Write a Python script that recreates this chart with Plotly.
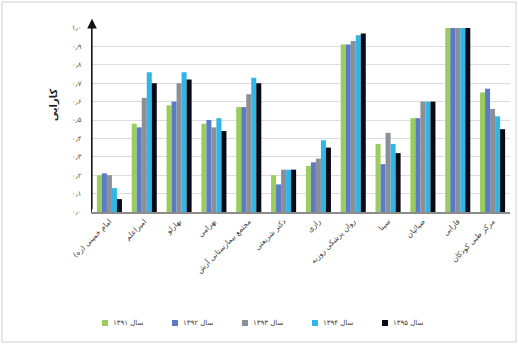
import plotly.graph_objects as go

# Hospitals (x categories)
hospitals = [
    "امام خمینی (ره)", "امیراعلم", "بهارلو", "بهرامی", "مجتمع بیمارستانی آرش",
    "دکتر شریعتی", "رازی", "روان پزشکی روزبه", "سینا", "ضیائیان", "فارابی",
    "مرکز طبی کودکان",
]

years = ["سال ۱۳۹۱", "سال ۱۳۹۲", "سال ۱۳۹۳", "سال ۱۳۹۴", "سال ۱۳۹۵"]

eff_1391 = [0.20, 0.48, 0.58, 0.48, 0.57, 0.20, 0.25, 0.91, 0.37, 0.51, 1.00, 0.65]
eff_1392 = [0.21, 0.46, 0.60, 0.50, 0.57, 0.15, 0.27, 0.91, 0.26, 0.51, 1.00, 0.67]
eff_1393 = [0.20, 0.62, 0.70, 0.46, 0.64, 0.23, 0.29, 0.93, 0.43, 0.60, 1.00, 0.56]
eff_1394 = [0.13, 0.76, 0.76, 0.51, 0.73, 0.23, 0.39, 0.96, 0.37, 0.60, 1.00, 0.52]
eff_1395 = [0.07, 0.70, 0.72, 0.44, 0.70, 0.23, 0.35, 0.97, 0.32, 0.60, 1.00, 0.45]

series = [eff_1391, eff_1392, eff_1393, eff_1394, eff_1395]
colors = ["#9ACD5E", "#5B7CC4", "#8A8F99", "#2FB6E6", "#0A0A14"]

tick_vals = [0.0, 0.1, 0.2, 0.3, 0.4, 0.5, 0.6, 0.7, 0.8, 0.9, 1.0]
tick_text = ["۰٫۰", "۰٫۱", "۰٫۲", "۰٫۳", "۰٫۴", "۰٫۵", "۰٫۶", "۰٫۷", "۰٫۸", "۰٫۹", "۱٫۰"]

W, H = 518, 344
L, R, T, B = 92, 8, 28, 132
pw, ph = W - L - R, H - T - B


def px_x(x):
    return (x - L) / pw


def px_y(y):
    return (H - B - y) / ph


fig = go.Figure()
for name, vals, c in zip(years, series, colors):
    fig.add_trace(go.Bar(x=hospitals, y=vals, name=name, marker=dict(color=c, line=dict(width=0))))

fig.update_layout(
    width=W, height=H,
    margin=dict(l=L, r=R, t=T, b=B),
    paper_bgcolor="white", plot_bgcolor="white",
    barmode="group", bargap=0.28, bargroupgap=0,
    font=dict(family="DejaVu Sans", size=8, color="#404040"),
    showlegend=False,
    xaxis=dict(tickangle=-45, showline=True, linecolor="#8c8c8c", linewidth=2,
               ticks="", tickfont=dict(size=7.5, color="#404040"), showgrid=False),
    yaxis=dict(range=[0, 1.0], tickvals=tick_vals, ticktext=tick_text,
               showgrid=True, gridcolor="#dcdcdc", gridwidth=1,
               showline=True, linecolor="#222222", linewidth=1,
               ticks="", ticklabelstandoff=8,
               tickfont=dict(size=7, color="#595959"), zeroline=False),
)

# Legend row: colour swatch followed by the year label
for i, (name, c) in enumerate(zip(years, colors)):
    x0 = 102 + 70 * i
    fig.add_shape(type="rect", xref="paper", yref="paper",
                  x0=px_x(x0), x1=px_x(x0 + 6), y0=px_y(326), y1=px_y(320),
                  fillcolor=c, line=dict(width=0))
    fig.add_annotation(x=px_x(x0 + 9), y=px_y(323), xref="paper", yref="paper",
                       text=name, showarrow=False, xanchor="left", yanchor="middle",
                       font=dict(size=7, color="#404040"))

# Arrowhead on the y axis
fig.add_annotation(x=0, y=1.05, xref="paper", yref="paper", ax=0, ay=ph + 8,
                   axref="pixel", ayref="pixel", showarrow=True, arrowhead=2,
                   arrowsize=1.6, arrowwidth=1.2, arrowcolor="#111111", text="")

# Y axis title
fig.add_annotation(x=px_x(46), y=0.58, xref="paper", yref="paper",
                   text="<b>کارایی</b>", showarrow=False, textangle=-90,
                   font=dict(size=10, color="#222222"))

# Chart frame
fig.add_shape(type="rect", xref="paper", yref="paper",
              x0=px_x(2), x1=px_x(W - 2), y0=px_y(H - 2), y1=px_y(2),
              line=dict(color="#d0d0d0", width=1))

fig.write_html("out.html")
